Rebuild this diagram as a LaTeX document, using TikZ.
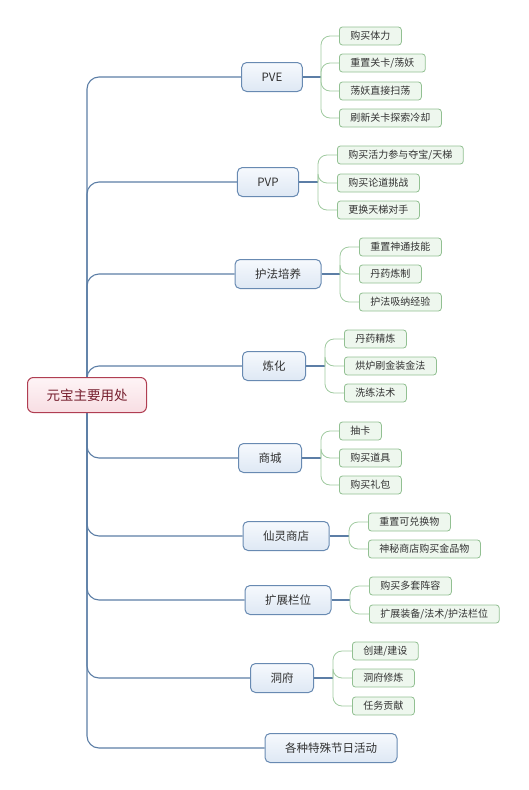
\documentclass[tikz,border=0pt]{standalone}
\usepackage{fontspec}
\setmainfont{Noto Sans CJK SC}
\usetikzlibrary{backgrounds}
\definecolor{spineblue}{RGB}{92,126,166}
\definecolor{topicline}{RGB}{104,138,178}
\definecolor{topictop}{RGB}{246,249,253}
\definecolor{topicbot}{RGB}{222,232,244}
\definecolor{leafline}{RGB}{146,192,146}
\definecolor{leaffill}{RGB}{238,247,238}
\definecolor{twiggreen}{RGB}{160,202,160}
\definecolor{rootline}{RGB}{176,62,82}
\definecolor{roottop}{RGB}{254,244,246}
\definecolor{rootbot}{RGB}{248,222,227}
\definecolor{roottext}{RGB}{118,30,46}
\definecolor{labeltext}{RGB}{50,50,50}
\tikzset{
  rootbox/.style={draw=rootline, line width=1pt, rounded corners=6pt, top color=roottop, bottom color=rootbot,
    minimum height=35pt, inner xsep=19pt, text=roottext, font=\fontsize{13.5}{15}\selectfont},
  topicbox/.style={draw=topicline, line width=1pt, rounded corners=5pt, top color=topictop, bottom color=topicbot,
    minimum height=29pt, inner xsep=20pt, text=labeltext, font=\fontsize{11.5}{13}\selectfont},
  leafbox/.style={draw=leafline, line width=0.8pt, rounded corners=3pt, fill=leaffill, anchor=west,
    minimum height=18pt, inner ysep=0pt, inner xsep=11pt, text=labeltext, font=\fontsize{10}{11}\selectfont},
  spine/.style={draw=spineblue, line width=1.1pt, rounded corners=12pt},
  twig/.style={draw=twiggreen, line width=0.8pt, rounded corners=9pt},
}
\begin{document}
\begin{tikzpicture}[x=1pt, y=-1pt]
    \useasboundingbox (0,0) rectangle (528,790);

    % Root
    \node[rootbox] (root) at (87,395) {元宝主要用处};

    % Main topics
    \foreach \name/\x/\y/\lab in {pve/272/77/PVE, pvp/268/182/PVP, hufa/278/274/护法培养, lianhua/274/366/炼化,
        shop/270/458/商城, xianling/286/536/仙灵商店, slot/288/600/扩展栏位, dongfu/282/678/洞府, festival/331/748/各种特殊节日活动} {
        \node[topicbox] (\name) at (\x,\y) {\lab};
    }

    % Spine from root to topics (behind the root box)
    \begin{scope}[on background layer]
        \foreach \name in {pve, pvp, hufa, lianhua} {
            \draw[spine] (root.north) |- (\name.west);
        }
        \foreach \name in {shop, xianling, slot, dongfu, festival} {
            \draw[spine] (root.south) |- (\name.west);
        }
    \end{scope}

    % PVE
    \coordinate (pveJ) at (321,77);
    \draw[spine] (pve.east) -- (pveJ);
    \foreach \y/\lab in {36/购买体力, 63/{重置关卡/荡妖}, 91/荡妖直接扫荡, 118/刷新关卡探索冷却} {
        \node[leafbox] (pve-\y) at (339,\y) {\lab};
        \draw[twig] (pveJ) |- (pve-\y.west);
    }

    % PVP
    \coordinate (pvpJ) at (318,182);
    \draw[spine] (pvp.east) -- (pvpJ);
    \foreach \y/\lab in {155/{购买活力参与夺宝/天梯}, 183/购买论道挑战, 210/更换天梯对手} {
        \node[leafbox] (pvp-\y) at (337,\y) {\lab};
        \draw[twig] (pvpJ) |- (pvp-\y.west);
    }

    % Hufa
    \coordinate (hufaJ) at (340,274);
    \draw[spine] (hufa.east) -- (hufaJ);
    \foreach \y/\lab in {247/重置神通技能, 274/丹药炼制, 302/护法吸纳经验} {
        \node[leafbox] (hufa-\y) at (359,\y) {\lab};
        \draw[twig] (hufaJ) |- (hufa-\y.west);
    }

    % Lianhua
    \coordinate (lianhuaJ) at (325,366);
    \draw[spine] (lianhua.east) -- (lianhuaJ);
    \foreach \y/\lab in {339/丹药精炼, 366/烘炉刷金装金法, 393/洗练法术} {
        \node[leafbox] (lianhua-\y) at (344,\y) {\lab};
        \draw[twig] (lianhuaJ) |- (lianhua-\y.west);
    }

    % Shop
    \coordinate (shopJ) at (321,458);
    \draw[spine] (shop.east) -- (shopJ);
    \foreach \y/\lab in {431/抽卡, 458/购买道具, 485/购买礼包} {
        \node[leafbox] (shop-\y) at (339,\y) {\lab};
        \draw[twig] (shopJ) |- (shop-\y.west);
    }

    % Xianling
    \coordinate (xianlingJ) at (349,536);
    \draw[spine] (xianling.east) -- (xianlingJ);
    \foreach \y/\lab in {522/重置可兑换物, 549/神秘商店购买金品物} {
        \node[leafbox] (xianling-\y) at (368,\y) {\lab};
        \draw[twig] (xianlingJ) |- (xianling-\y.west);
    }

    % Slot
    \coordinate (slotJ) at (350,600);
    \draw[spine] (slot.east) -- (slotJ);
    \foreach \y/\lab in {586/购买多套阵容, 614/{扩展装备/法术/护法栏位}} {
        \node[leafbox] (slot-\y) at (369,\y) {\lab};
        \draw[twig] (slotJ) |- (slot-\y.west);
    }

    % Dongfu
    \coordinate (dongfuJ) at (333,678);
    \draw[spine] (dongfu.east) -- (dongfuJ);
    \foreach \y/\lab in {651/{创建/建设}, 678/洞府修炼, 706/任务贡献} {
        \node[leafbox] (dongfu-\y) at (352,\y) {\lab};
        \draw[twig] (dongfuJ) |- (dongfu-\y.west);
    }
\end{tikzpicture}
\end{document}
